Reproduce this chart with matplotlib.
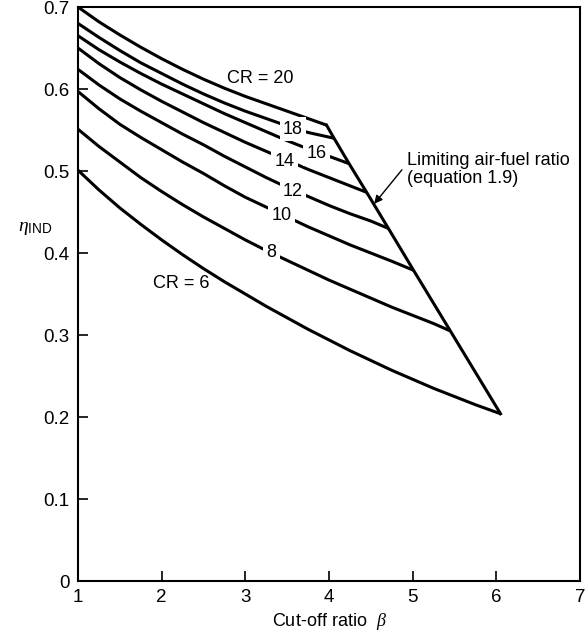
import matplotlib.pyplot as plt

plt.rcParams['font.family'] = ['Liberation Sans', 'DejaVu Sans']
plt.rcParams['mathtext.fontset'] = 'custom'
plt.rcParams['mathtext.rm'] = 'Liberation Sans'
plt.rcParams['mathtext.it'] = 'Liberation Serif:italic'

# compression ratios and their curves (cut-off ratio beta vs indicated efficiency)
cr_values = [20, 18, 16, 14, 12, 10, 8, 6]

beta_20 = [1.0, 1.25, 1.5, 1.75, 2.0, 2.25, 2.5, 2.75, 3.0, 3.25, 3.5, 3.75, 3.97]
eta_20 = [0.700, 0.682, 0.666, 0.651, 0.637, 0.624, 0.612, 0.601, 0.591, 0.582, 0.573, 0.564, 0.556]

beta_18 = [1.0, 1.25, 1.5, 1.75, 2.0, 2.25, 2.5, 2.75, 3.0, 3.25, 3.5, 3.75, 4.06]
eta_18 = [0.680, 0.663, 0.647, 0.632, 0.619, 0.606, 0.594, 0.583, 0.573, 0.564, 0.555, 0.547, 0.540]

beta_16 = [1.0, 1.25, 1.5, 1.75, 2.0, 2.25, 2.5, 2.75, 3.0, 3.25, 3.5, 3.75, 4.0, 4.24]
eta_16 = [0.665, 0.648, 0.633, 0.619, 0.606, 0.594, 0.582, 0.570, 0.559, 0.548, 0.537, 0.527, 0.518, 0.509]

beta_14 = [1.0, 1.25, 1.5, 1.75, 2.0, 2.25, 2.5, 2.75, 3.0, 3.25, 3.5, 3.75, 4.0, 4.25, 4.45]
eta_14 = [0.650, 0.631, 0.614, 0.599, 0.585, 0.572, 0.559, 0.547, 0.535, 0.524, 0.513, 0.502, 0.492,
          0.482, 0.474]

beta_12 = [1.0, 1.25, 1.5, 1.75, 2.0, 2.25, 2.5, 2.75, 3.0, 3.25, 3.5, 3.75, 4.0, 4.25, 4.5, 4.71]
eta_12 = [0.624, 0.605, 0.588, 0.573, 0.559, 0.545, 0.532, 0.518, 0.505, 0.492, 0.480, 0.469, 0.458,
          0.448, 0.439, 0.430]

beta_10 = [1.0, 1.25, 1.5, 1.75, 2.0, 2.25, 2.5, 2.75, 3.0, 3.25, 3.5, 3.75, 4.0, 4.25, 4.5, 4.75, 5.01]
eta_10 = [0.597, 0.576, 0.557, 0.541, 0.526, 0.511, 0.497, 0.482, 0.468, 0.456, 0.444, 0.432, 0.421,
          0.410, 0.400, 0.390, 0.379]

beta_8 = [1.0, 1.25, 1.5, 1.75, 2.0, 2.25, 2.5, 2.75, 3.0, 3.25, 3.5, 3.75, 4.0, 4.25, 4.5, 4.75,
          5.0, 5.25, 5.45]
eta_8 = [0.551, 0.530, 0.511, 0.492, 0.475, 0.459, 0.444, 0.430, 0.416, 0.403, 0.391, 0.379, 0.367,
         0.356, 0.345, 0.334, 0.324, 0.314, 0.305]

beta_6 = [1.0, 1.25, 1.5, 1.75, 2.0, 2.25, 2.5, 2.75, 3.0, 3.25, 3.5, 3.75, 4.0, 4.25, 4.5, 4.75,
          5.0, 5.25, 5.5, 5.75, 6.05]
eta_6 = [0.501, 0.477, 0.455, 0.435, 0.416, 0.398, 0.381, 0.365, 0.350, 0.335, 0.321, 0.307, 0.294,
         0.281, 0.269, 0.257, 0.246, 0.235, 0.225, 0.215, 0.204]

curves = [(beta_20, eta_20), (beta_18, eta_18), (beta_16, eta_16), (beta_14, eta_14),
          (beta_12, eta_12), (beta_10, eta_10), (beta_8, eta_8), (beta_6, eta_6)]

# curve labels: text and position (inline ones break their curve)
label_text = ['CR = 20', '18', '16', '14', '12', '10', '8', 'CR = 6']
label_beta = [3.18, 3.57, 3.85, 3.47, 3.57, 3.43, 3.31, 2.24]
label_eta = [0.613, 0.551, 0.521, 0.512, 0.475, 0.446, 0.401, 0.363]
label_inline = [False, True, True, True, True, True, True, False]

x_ticks = [1, 2, 3, 4, 5, 6, 7]
y_ticks = [0, 0.1, 0.2, 0.3, 0.4, 0.5, 0.6, 0.7]
y_tick_labels = ['0', '0.1', '0.2', '0.3', '0.4', '0.5', '0.6', '0.7']

fig = plt.figure(figsize=(5.86, 6.33), dpi=100)
ax = fig.add_axes([0.1331, 0.0821, 0.8567, 0.9068])

for b, e in curves:
    ax.plot(b, e, color='black', lw=2.2, solid_capstyle='butt', solid_joinstyle='round', zorder=2)

# limiting air-fuel ratio line through the curve end points
end_beta = [b[-1] for b, e in curves]
end_eta = [e[-1] for b, e in curves]
ax.plot(end_beta, end_eta, color='black', lw=2.2, zorder=2)

for t, bx, ey, inl in zip(label_text, label_beta, label_eta, label_inline):
    box = dict(facecolor='white', edgecolor='none', pad=2.5) if inl else None
    ax.text(bx, ey, t, fontsize=13, ha='center', va='center', zorder=3, bbox=box)

ax.annotate('Limiting air-fuel ratio\n(equation 1.9)', xy=(4.54, 0.460), xytext=(4.93, 0.523),
            fontsize=13, ha='left', va='top', linespacing=1.1,
            arrowprops=dict(arrowstyle='-|>', color='black', lw=1, mutation_scale=12,
                            shrinkA=0, shrinkB=0, relpos=(-0.03, 0.5)))

ax.set_xlim(1, 7)
ax.set_ylim(0, 0.7)
ax.set_xticks(x_ticks)
ax.set_yticks(y_ticks)
ax.set_yticklabels(y_tick_labels)
ax.tick_params(direction='in', length=7, width=1.2, labelsize=13.5, pad=6)
for s in ax.spines.values():
    s.set_linewidth(1.5)

ax.set_xlabel(r'Cut-off ratio  $\it{\beta}$', fontsize=13, labelpad=3)
ax.set_ylabel(r'$\it{\eta}_{\rm IND}$', fontsize=14, rotation=0)
ax.yaxis.set_label_coords(-0.086, 0.60)

fig.savefig('out.png', dpi=100)
